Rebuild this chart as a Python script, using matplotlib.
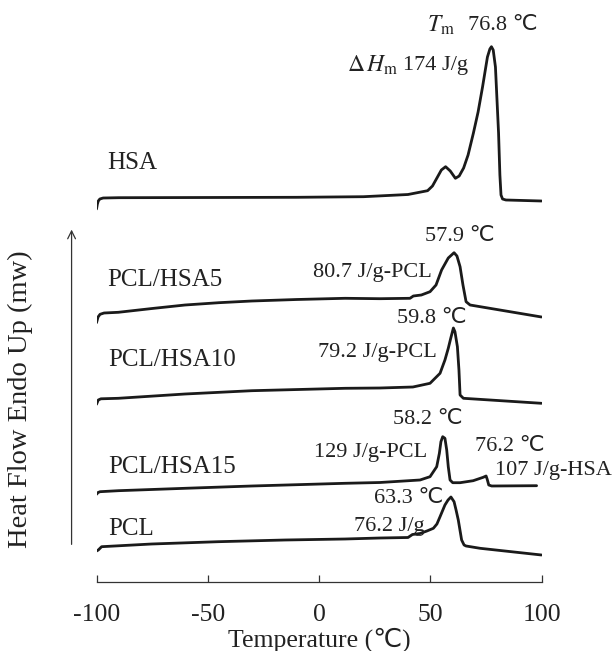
import matplotlib
matplotlib.use("Agg")
import matplotlib.pyplot as plt
import numpy as np

plt.rcParams['font.family'] = ['Liberation Serif', 'DejaVu Sans']
plt.rcParams['mathtext.fontset'] = 'stix'

# ---- data (temperature in deg C, heat flow in arbitrary stacked units) ----
hsa_T = [-100, -99.6, -99.2, -98.5, -97, -90, -50, -10, 20, 40, 48.8, 51, 53, 55, 56.9, 59,
         61.3, 63, 65, 67, 69.4, 71.5, 73.5, 75.7, 76.8, 77.5, 78.3, 79.3, 80.7, 81.3, 81.8,
         82.5, 84, 100]
hsa_y = [37.3, 37.8, 38.1, 38.3, 38.4, 38.43, 38.45, 38.47, 38.53, 38.75, 39.13, 39.6, 40.4,
         41.2, 41.53, 41.1, 40.37, 40.6, 41.4, 42.7, 44.9, 47.0, 49.5, 52.5, 53.3, 53.53, 53.2,
         51.5, 44.9, 40.7, 38.7, 38.3, 38.2, 38.1]

hsa5_T = [-100, -99.3, -98.4, -96.6, -90.2, -75, -60.2, -45, -30.2, -10, 11.7, 27.4, 40.9,
          42.4, 46.0, 49.9, 52.6, 55.1, 58.1, 60.7, 62.0, 63.4, 64.7, 66.1, 67.9, 100]
hsa5_y = [25.93, 26.5, 26.77, 26.9, 26.97, 27.35, 27.7, 27.93, 28.1, 28.25, 28.37, 28.33,
          28.37, 28.6, 28.7, 29.03, 29.7, 31.2, 32.4, 32.93, 32.6, 31.53, 29.7, 28.03, 27.7, 26.5]

hsa10_T = [-100, -99.2, -98.0, -90.2, -60.2, -30.2, 11.7, 27.4, 42.2, 49.9, 54.4, 56.6, 58.1,
           59.2, 60.4, 61.1, 62.2, 62.9, 63.4, 64.9, 100]
hsa10_y = [17.77, 18.2, 18.32, 18.37, 18.8, 19.13, 19.37, 19.4, 19.5, 19.87, 20.87, 22.2,
           23.37, 24.37, 25.4, 25.03, 23.53, 21.2, 18.7, 18.37, 17.87]

hsa15_T = [-100, -99.3, -98.4, -90.2, -60.2, -30.2, 11.7, 27.4, 45.4, 49.9, 52.9, 54.1, 54.8,
           55.6, 56.6, 57.4, 58.1, 58.9, 60.1, 63.4, 69.3, 73.8, 75.1, 75.6, 76.3, 77.6, 97.8]
hsa15_y = [8.77, 8.95, 9.03, 9.13, 9.37, 9.6, 9.87, 9.95, 10.2, 10.53, 11.53, 12.87, 14.03,
           14.53, 14.37, 13.2, 11.53, 10.2, 9.93, 9.93, 10.13, 10.47, 10.6, 10.27, 9.7, 9.6, 9.63]

pcl_T = [-100, -99.2, -97.7, -75.2, -45.3, -15.3, 11.7, 27.4, 40.0, 42.0, 45.4, 48.5, 51.4,
         53.0, 54.4, 56.6, 58.0, 59.3, 60.7, 61.6, 62.6, 64.1, 65.2, 66.1, 72.4, 100]
pcl_y = [3.1, 3.2, 3.53, 3.8, 4.03, 4.2, 4.3, 4.4, 4.45, 4.75, 4.85, 5.1, 5.37, 5.8, 6.53,
         7.7, 8.2, 8.5, 8.03, 7.2, 6.2, 4.2, 3.7, 3.6, 3.37, 2.7]

curve_names = ["HSA", "PCL/HSA5", "PCL/HSA10", "PCL/HSA15", "PCL"]
x_ticks = [-100, -50, 0, 50, 100]

# ---- figure ----
W, H = 613, 651
fig = plt.figure(figsize=(W / 100, H / 100), dpi=100)
ax = fig.add_axes([96.5 / W, (H - 582) / H, 445 / W, 562 / H])

line_kw = dict(color='#1a1a1a', lw=2.0, solid_joinstyle='round', solid_capstyle='round')
for T, y in [(hsa_T, hsa_y), (hsa5_T, hsa5_y), (hsa10_T, hsa10_y), (hsa15_T, hsa15_y), (pcl_T, pcl_y)]:
    ax.plot(T, y, **line_kw)

ax.set_xlim(-100, 100)
ax.set_ylim(0, 56.2)
for s in ['top', 'right', 'left']:
    ax.spines[s].set_visible(False)
ax.spines['bottom'].set_linewidth(0.9)
ax.spines['bottom'].set_color('#333333')
ax.set_yticks([])
ax.set_xticks(x_ticks)
ax.set_xticklabels([str(v) for v in x_ticks])
ax.tick_params(axis='x', direction='in', length=5, width=0.9, colors='#333333',
               labelsize=18.5, pad=16, labelcolor='#222222')

ax.set_xlabel('Temperature (℃)', fontsize=18.5, color='#222222', labelpad=1)
ax.text(-0.172, 0.325, 'Heat Flow Endo Up (mw)', transform=ax.transAxes, rotation=90,
        ha='center', va='center', fontsize=20.5, color='#222222')

ax.annotate('', xy=(-0.056, 0.632), xytext=(-0.056, 0.062), xycoords='axes fraction',
            textcoords='axes fraction', annotation_clip=False,
            arrowprops=dict(arrowstyle='->', lw=0.9, color='#333333', mutation_scale=14))

# curve names
name_pos = [(-95.4, 41.9), (-95.4, 30.2), (-94.8, 22.2), (-94.8, 11.5), (-94.8, 5.3)]
for name, (tx, ty) in zip(curve_names, name_pos):
    ax.text(tx, ty, name, fontsize=18, ha='left', va='center', color='#222222')

tk = dict(fontsize=16, va='center', color='#222222')
ax.text(48.5, 55.7, r'$T_\mathrm{m}$', ha='left', fontsize=17, va='center', color='#222222')
ax.text(67.0, 55.7, '76.8 ℃', ha='left', **tk)
ax.text(12.6, 51.7, r'$\Delta\,H_\mathrm{m}$', ha='left', fontsize=17, va='center', color='#222222')
ax.text(37.8, 51.7, '174 J/g', ha='left', **tk)
ax.text(47.6, 34.53, '57.9 ℃', ha='left', **tk)
ax.text(50.8, 31.0, '80.7 J/g-PCL', ha='right', **tk)
ax.text(34.9, 26.37, '59.8 ℃', ha='left', **tk)
ax.text(52.9, 23.0, '79.2 J/g-PCL', ha='right', **tk)
ax.text(33.3, 16.2, '58.2 ℃', ha='left', **tk)
ax.text(48.4, 13.0, '129 J/g-PCL', ha='right', **tk)
ax.text(70.1, 13.53, '76.2 ℃', ha='left', **tk)
ax.text(79.1, 11.2, '107 J/g-HSA', ha='left', clip_on=False, **tk)
ax.text(55.9, 8.37, '63.3 ℃', ha='right', **tk)
ax.text(47.6, 5.53, '76.2 J/g', ha='right', **tk)

fig.savefig('out.png', dpi=100)
